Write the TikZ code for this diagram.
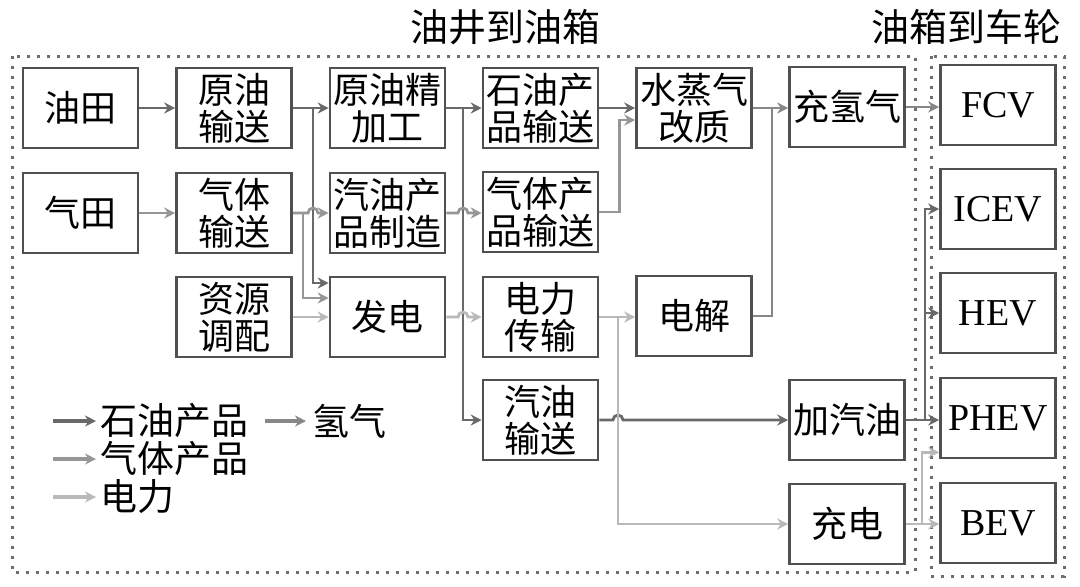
\documentclass[tikz,border=0pt]{standalone}
\usepackage{fontspec}
\setmainfont{Liberation Serif}
\newfontfamily\cjk{Noto Sans CJK SC}
\usetikzlibrary{arrows.meta}

\definecolor{grigiobordo}{RGB}{80,80,80}
\definecolor{olio}{RGB}{105,105,105}
\definecolor{gas}{RGB}{150,150,150}
\definecolor{elettrico}{RGB}{185,185,185}
\definecolor{idrogeno}{RGB}{135,135,135}
\definecolor{cornice}{RGB}{110,110,110}

\begin{document}
\begin{tikzpicture}[
    x=0.5pt, y=-0.5pt,
    box/.style={
        draw=grigiobordo,
        line width=1.3pt,
        rectangle,
        minimum width=57.5pt,
        minimum height=40pt,
        inner sep=0pt,
        align=center,
        font=\cjk\fontsize{18}{18.5}\selectfont
    },
    veicolo/.style={
        box,
        font=\fontsize{19}{20}\selectfont
    },
    freccia/.style={
        line width=1.4pt,
        -{Stealth[length=5.5pt,width=5.5pt]}
    },
    linea/.style={
        line width=1.4pt
    },
    legenda/.style={
        anchor=west,
        inner sep=0pt,
        font=\cjk\fontsize{18.5}{19}\selectfont
    },
    titolo/.style={
        inner sep=0pt,
        font=\cjk\fontsize{19}{20}\selectfont
    },
    cornice/.style={
        draw=cornice,
        line width=1.5pt,
        dash pattern=on 1.5pt off 3.5pt
    }
]

    \useasboundingbox (0,0) rectangle (1080,586);

    % Cornici tratteggiate e titoli
    \draw[cornice] (12,56) rectangle (915,572);
    \draw[cornice] (931,56) rectangle (1064,576);
    \node[titolo] (titolo_pozzo) at (505,27) {油井到油箱};
    \node[titolo] (titolo_ruote) at (966,27) {油箱到车轮};

    % Colonna 1 e 2
    \node[box] (you_tian) at (80.5,108) {油田};
    \node[box] (qi_tian) at (80.5,213) {气田};
    \node[box] (yuanyou_shusong) at (234,108) {原油\\输送};
    \node[box] (qiti_shusong) at (234,213) {气体\\输送};
    \node[box] (ziyuan_peidian) at (234,317) {资源\\调配};

    % Colonna 3 e 4
    \node[box] (yuanyou_jiagong) at (387.5,108) {原油精\\加工};
    \node[box] (qiyou_zhizao) at (387.5,213) {汽油产\\品制造};
    \node[box] (fa_dian) at (387.5,317) {发电};
    \node[box] (shiyou_shusong) at (540.5,108) {石油产\\品输送};
    \node[box] (qiti_chanpin_shusong) at (540.5,212) {气体产\\品输送};
    \node[box] (dianli_chuanshu) at (540.5,317) {电力\\传输};
    \node[box] (qiyou_shusong) at (540.5,420) {汽油\\输送};

    % Colonna 5 e 6
    \node[box] (shuizhengqi) at (694,108) {水蒸气\\改质};
    \node[box] (dian_jie) at (694,316) {电解};
    \node[box] (chong_qingqi) at (847,107) {充氢气};
    \node[box] (jia_qiyou) at (847,420) {加汽油};
    \node[box] (chong_dian) at (847,524) {充电};

    % Veicoli
    \node[veicolo] (fcv) at (998,105) {FCV};
    \node[veicolo] (icev) at (998,209) {ICEV};
    \node[veicolo] (hev) at (998,313) {HEV};
    \node[veicolo] (phev) at (998,418) {PHEV};
    \node[veicolo] (bev) at (998,523) {BEV};

    % Frecce: petrolio
    \draw[freccia, olio] (you_tian) -- (yuanyou_shusong);
    \draw[freccia, olio] (yuanyou_shusong) -- (yuanyou_jiagong);
    \coordinate (nodo_a) at (313,108);
    \draw[freccia, olio] (nodo_a) |- ([yshift=17pt]fa_dian.west);
    \draw[freccia, olio] (yuanyou_jiagong) -- (shiyou_shusong);
    \coordinate (nodo_c) at (463,108);
    \draw[freccia, olio] (nodo_c) |- (qiyou_shusong.west);
    \draw[freccia, olio] (shiyou_shusong) -- (shuizhengqi);
    \draw[freccia, olio] (qiyou_shusong.east) -- (613,420)
        arc[start angle=180, end angle=0, radius=2.5pt] -- (jia_qiyou.west);

    % Frecce: gas
    \draw[freccia, gas] (qi_tian) -- (qiti_shusong);
    \draw[freccia, gas] (qiti_shusong.east) -- (308,213)
        arc[start angle=180, end angle=0, radius=2.5pt] -- (qiyou_zhizao.west);
    \coordinate (nodo_b) at (303,213);
    \draw[freccia, gas] (nodo_b) |- ([yshift=9.5pt]fa_dian.west);
    \draw[freccia, gas] (qiyou_zhizao.east) -- (458,213)
        arc[start angle=180, end angle=0, radius=2.5pt] -- (qiti_chanpin_shusong.west |- qiyou_zhizao.east);
    \draw[freccia, gas] (qiti_chanpin_shusong.east) -- ++(20,0) |- ([yshift=-6pt]shuizhengqi.west);

    % Frecce: elettricita
    \draw[freccia, elettrico] (ziyuan_peidian) -- (fa_dian);
    \draw[freccia, elettrico] (fa_dian.east) -- (458,317)
        arc[start angle=180, end angle=0, radius=2.5pt] -- (dianli_chuanshu.west);
    \draw[freccia, elettrico] (dianli_chuanshu.east) -- (dianli_chuanshu.east -| dian_jie.west);
    \coordinate (nodo_e) at (618,317);
    \draw[freccia, elettrico] (nodo_e) |- (chong_dian.west);

    % Frecce: idrogeno
    \draw[freccia, idrogeno] (shuizhengqi.east) -- (shuizhengqi.east -| chong_qingqi.west);
    \coordinate (nodo_f) at (772,108);
    \draw[linea, idrogeno] (dian_jie.east) -| (nodo_f);
    \draw[freccia, idrogeno] (chong_qingqi.east) -- (chong_qingqi.east -| fcv.west);

    % Frecce verso i veicoli
    \draw[freccia, olio] (jia_qiyou.east) -- (jia_qiyou.east -| phev.west);
    \coordinate (nodo_g) at (925,420);
    \draw[freccia, olio] (nodo_g) |- (icev.west);
    \draw[freccia, olio] (nodo_g) |- (hev.west);
    \draw[freccia, elettrico] (chong_dian.east) -- (chong_dian.east -| bev.west);
    \coordinate (nodo_h) at (922,524);
    \draw[freccia, elettrico] (nodo_h) |- ([yshift=3.5pt]phev.south west);

    % Legenda
    \node[legenda] (leg_olio) at (100,421) {石油产品};
    \node[legenda] (leg_idrogeno) at (312,421) {氢气};
    \node[legenda] (leg_gas) at (100,459) {气体产品};
    \node[legenda] (leg_elettrico) at (100,497) {电力};
    \draw[freccia, olio, line width=2pt] ([xshift=-23.5pt]leg_olio.west) -- ([xshift=-2pt]leg_olio.west);
    \draw[freccia, idrogeno, line width=2pt] ([xshift=-23.5pt]leg_idrogeno.west) -- ([xshift=-3pt]leg_idrogeno.west);
    \draw[freccia, gas, line width=2pt] ([xshift=-23.5pt]leg_gas.west) -- ([xshift=-2pt]leg_gas.west);
    \draw[freccia, elettrico, line width=2pt] ([xshift=-23.5pt]leg_elettrico.west) -- ([xshift=-2pt]leg_elettrico.west);

\end{tikzpicture}
\end{document}
